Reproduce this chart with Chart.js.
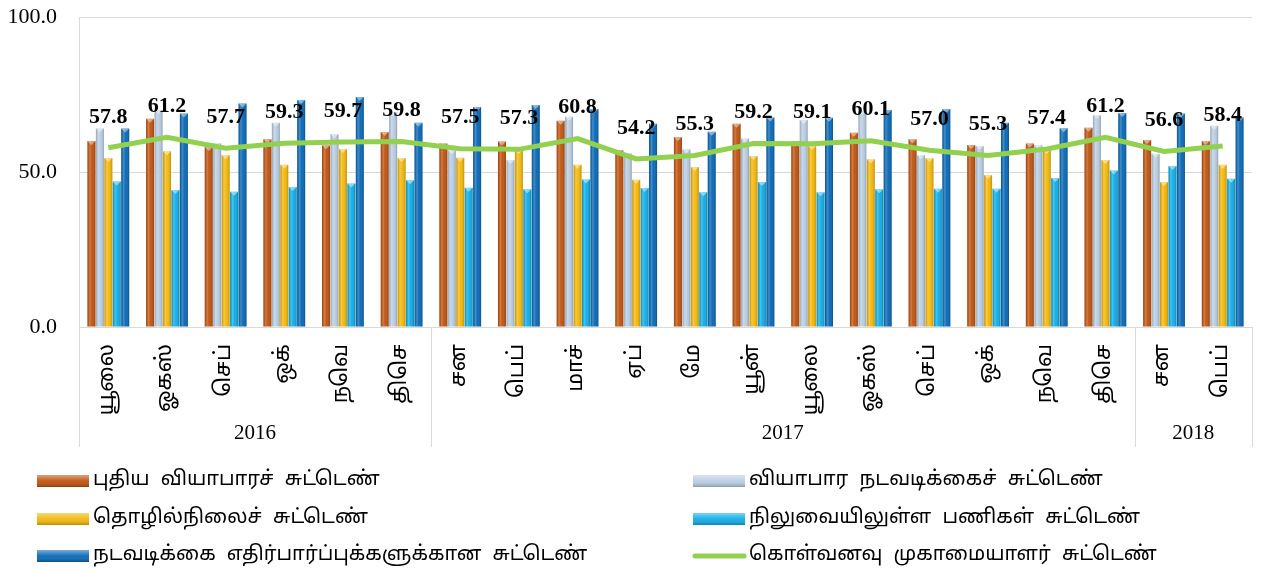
<!DOCTYPE html>
<html>
<head>
<meta charset="utf-8">
<script src="https://cdn.jsdelivr.net/npm/chart.js@4/dist/chart.umd.min.js"></script>
<style>
html,body{margin:0;padding:0;background:#fff;}
#wrap{position:relative;width:1262px;height:571px;}
</style>
</head>
<body>
<div id="wrap"><canvas id="c" width="1262" height="571"></canvas></div>
<script>
// ---- data ----
const months = ['யூலை','ஓகஸ்','செப்','ஒக்','நவெ','திசெ','சன','பெப்','மாச்','ஏப்','மே','யூன்','யூலை','ஓகஸ்','செப்','ஒக்','நவெ','திசெ','சன','பெப்'];
const years = ['2016','2017','2018'];
const yearSpans = [6, 12, 2];
const newBusiness   = [60.0,67.2,58.1,60.6,58.6,62.9,59.2,59.8,66.5,57.0,61.3,65.6,60.0,62.7,60.6,58.7,59.2,64.3,60.3,60.0];
const businessAct   = [64.0,70.0,59.3,65.9,62.2,69.2,57.0,53.9,67.8,56.0,57.3,60.8,66.8,69.7,55.4,58.4,58.6,68.4,55.9,64.9];
const employment    = [54.5,56.7,55.4,52.3,57.4,54.5,54.6,57.1,52.3,47.5,51.6,55.2,58.4,54.1,54.4,49.0,57.1,53.9,46.8,52.3];
const backlogs      = [46.9,44.2,43.6,45.2,46.3,47.3,44.9,44.4,47.6,44.8,43.5,46.8,43.5,44.4,44.6,44.6,48.1,50.5,51.9,47.8];
const expectations  = [64.0,68.9,72.1,73.2,74.2,65.9,71.0,71.6,70.3,65.6,63.0,67.6,67.5,70.0,70.3,65.9,64.1,69.0,68.9,67.6];
const pmi           = [57.8,61.2,57.7,59.3,59.7,59.8,57.5,57.3,60.8,54.2,55.3,59.2,59.1,60.1,57.0,55.3,57.4,61.2,56.6,58.4];
const yTicks = [0, 50, 100];
const seriesNames = ['புதிய வியாபாரச் சுட்டெண்','வியாபார நடவடிக்கைச் சுட்டெண்','தொழில்நிலைச் சுட்டெண்','நிலுவையிலுள்ள பணிகள் சுட்டெண்','நடவடிக்கை எதிர்பார்ப்புக்களுக்கான சுட்டெண்','கொள்வனவு முகாமையாளர் சுட்டெண்'];
const seriesColors = ['#C0530F','#B9CDE2','#F3B80A','#10ADE6','#0868B6','#92D050'];

const SERIF = "'Liberation Serif','Times New Roman',serif";
const TAMIL = "'Noto Sans Tamil','Latha','Lohit Tamil','Noto Sans',sans-serif";

// bevel / shading overlay for bars
const barShade = {
  id:'barShade',
  afterDatasetDraw(chart, args){
    const ds = chart.data.datasets[args.index];
    if (ds.type === 'line') return;
    const ctx = chart.ctx;
    const meta = args.meta;
    ctx.save();
    meta.data.forEach(el=>{
      const l = el.x - el.width/2, r = el.x + el.width/2, t = el.y, b = el.base;
      const g = ctx.createLinearGradient(l,0,r,0);
      g.addColorStop(0,'rgba(0,0,0,0.15)');
      g.addColorStop(0.3,'rgba(255,255,255,0.25)');
      g.addColorStop(0.55,'rgba(255,255,255,0.03)');
      g.addColorStop(1,'rgba(0,0,0,0.22)');
      ctx.fillStyle = g;
      ctx.fillRect(l,t,r-l,b-t);
      ctx.fillStyle = 'rgba(255,255,255,0.45)';
      ctx.beginPath();
      ctx.moveTo(l,t); ctx.lineTo(r,t); ctx.lineTo(el.x,t+4); ctx.closePath(); ctx.fill();
    });
    ctx.restore();
  }
};

// value labels for line series
const lineLabels = {
  id:'lineLabels',
  afterDatasetsDraw(chart){
    const ctx = chart.ctx;
    chart.data.datasets.forEach((ds,i)=>{
      if (ds.type !== 'line') return;
      const meta = chart.getDatasetMeta(i);
      ctx.save();
      ctx.font = "bold 22px " + SERIF;
      ctx.fillStyle = '#000';
      ctx.textAlign = 'center';
      ctx.textBaseline = 'middle';
      meta.data.forEach((pt,j)=>{
        ctx.fillText(ds.data[j].toFixed(1), pt.x, pt.y - 31);
      });
      ctx.restore();
    });
  }
};

// year grouping row + separators
const yearRow = {
  id:'yearRow',
  afterDraw(chart){
    const ctx = chart.ctx, x = chart.scales.x, area = chart.chartArea;
    const bottom = 447;
    const edge = i => {
      if (i <= 0) return area.left;
      if (i >= months.length) return area.right;
      return (x.getPixelForValue(i-1) + x.getPixelForValue(i)) / 2;
    };
    ctx.save();
    ctx.strokeStyle = '#d9d9d9';
    ctx.lineWidth = 1;
    let start = 0;
    const bounds = [0];
    yearSpans.forEach(s=>{ start += s; bounds.push(start); });
    bounds.forEach(i=>{
      const px = Math.round(edge(i)) + 0.5;
      ctx.beginPath(); ctx.moveTo(px, area.bottom); ctx.lineTo(px, bottom); ctx.stroke();
    });
    ctx.font = "21px " + SERIF;
    ctx.fillStyle = '#000';
    ctx.textAlign = 'center';
    ctx.textBaseline = 'middle';
    years.forEach((yr,k)=>{
      const cx = (edge(bounds[k]) + edge(bounds[k+1])) / 2;
      ctx.fillText(yr, cx, 433);
    });
    ctx.restore();
  }
};

// custom two-column legend
const legendGrid = {
  id:'legendGrid',
  afterDraw(chart){
    const ctx = chart.ctx;
    const cols = [37, 693];
    const rows = [481, 519, 556];
    ctx.save();
    ctx.font = "20px " + TAMIL;
    try { ctx.wordSpacing = '6px'; } catch(e) {}
    ctx.textBaseline = 'middle';
    ctx.textAlign = 'left';
    chart.data.datasets.forEach((ds,i)=>{
      const col = i % 2, row = Math.floor(i/2);
      const sx = cols[col], sy = rows[row];
      if (ds.type === 'line') {
        ctx.strokeStyle = ds.borderColor; ctx.lineWidth = 5; ctx.lineCap='round';
        ctx.beginPath(); ctx.moveTo(sx+2, sy); ctx.lineTo(sx+51, sy); ctx.stroke();
      } else {
        ctx.fillStyle = ds.backgroundColor;
        ctx.fillRect(sx, sy-6, 52, 12);
        const g = ctx.createLinearGradient(0,sy-6,0,sy+6);
        g.addColorStop(0,'rgba(255,255,255,0.45)');
        g.addColorStop(0.5,'rgba(255,255,255,0.05)');
        g.addColorStop(1,'rgba(0,0,0,0.25)');
        ctx.fillStyle = g; ctx.fillRect(sx, sy-6, 52, 12);
      }
      ctx.fillStyle = '#000';
      ctx.fillText(ds.label, sx + 56, sy);
    });
    ctx.restore();
  }
};

const barSets = [newBusiness, businessAct, employment, backlogs, expectations];
const datasets = barSets.map((d,i)=>({
  type:'bar', label: seriesNames[i], data: d,
  backgroundColor: seriesColors[i], borderWidth: 0,
  categoryPercentage: 0.72, barPercentage: 0.95, order: 2
}));
datasets.push({
  type:'line', label: seriesNames[5], data: pmi,
  borderColor: seriesColors[5], backgroundColor: seriesColors[5],
  borderWidth: 5, pointRadius: 0, tension: 0, order: 1
});

new Chart(document.getElementById('c'), {
  data: { labels: months, datasets },
  options: {
    responsive: false,
    animation: false,
    events: [],
    layout: { padding: { top: 17, right: 10, left: 0, bottom: 124 } },
    plugins: { legend: { display: false }, tooltip: { enabled: false } },
    scales: {
      x: {
        offset: true,
        grid: { display: false },
        border: { display: true, color: '#d9d9d9', width: 1 },
        ticks: {
          minRotation: 90, maxRotation: 90, autoSkip: false, padding: 9,
          color: '#000', font: { family: TAMIL, size: 22 }
        },
        afterFit(s){ s.height = 120; }
      },
      y: {
        min: 0, max: 100,
        afterBuildTicks(s){ s.ticks = yTicks.map(v=>({value:v})); },
        grid: { color: '#d9d9d9', drawTicks: true, tickLength: 22, tickColor: 'rgba(0,0,0,0)' },
        border: { display: true, color: '#d9d9d9', width: 1 },
        ticks: {
          padding: 0, color: '#000', font: { family: SERIF, size: 22 },
          callback: v => Number(v).toFixed(1)
        },
        afterFit(s){ s.width = 79; }
      }
    }
  },
  plugins: [barShade, lineLabels, yearRow, legendGrid]
});
</script>
</body>
</html>
